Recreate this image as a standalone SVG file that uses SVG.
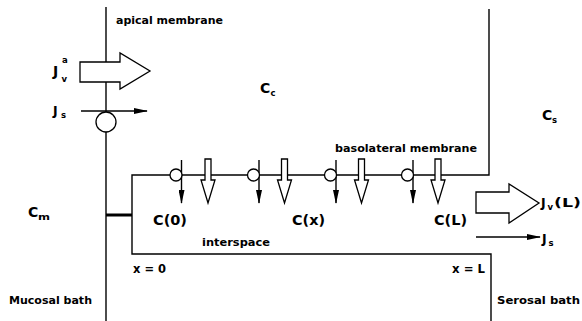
<svg xmlns="http://www.w3.org/2000/svg" width="582" height="321" viewBox="0 0 582 321">
  <style>
    .ln { stroke: #000; stroke-width: 1.4; fill: none; }
    .thick { stroke: #000; stroke-width: 3; fill: none; }
    .open { stroke: #000; stroke-width: 1.3; fill: #fff; stroke-linejoin: miter; }
    .carrier { stroke: #000; stroke-width: 1.3; fill: #fff; }
    text { font-family: "DejaVu Sans", "Liberation Sans", Arial, sans-serif; font-weight: bold; fill: #000; }
    .small { font-size: 10.5px; }
    .big { font-size: 14px; }
    .mid { font-size: 12.5px; }
    .sub { font-size: 8.5px; }
  </style>
  <defs>
    <marker id="head" viewBox="0 0 14 6" markerWidth="14" markerHeight="6" refX="13" refY="3" markerUnits="userSpaceOnUse" orient="auto">
      <path d="M0,0 L14,3 L0,6 z" fill="#000"/>
    </marker>
    <polygon id="openDown" class="open" points="-3,159 3,159 3,180 7,180 0,203 -7,180 -3,180"/>
  </defs>
  <rect width="582" height="321" fill="#fff"/>

  <!-- membranes / compartments -->
  <g id="apical-membrane">
    <line class="ln" x1="106" y1="7" x2="106" y2="321"/>
    <text class="small" x="116" y="24" textLength="107" lengthAdjust="spacingAndGlyphs">apical membrane</text>
  </g>
  <g id="cell-boundary">
    <polyline class="ln" points="489,9 489,175 132,175 132,254 491,254 491,321"/>
    <line class="thick" x1="106" y1="215" x2="132" y2="215"/>
    <text class="small" x="335" y="152" textLength="142" lengthAdjust="spacingAndGlyphs">basolateral membrane</text>
    <text class="small" x="202" y="246" textLength="68" lengthAdjust="spacingAndGlyphs">interspace</text>
  </g>

  <g id="connectors">
    <!-- apical volume flow -->
    <polygon class="open" points="80,62 120,62 120,53 150,71 120,89 120,82 80,82"/>
    <!-- apical solute flow -->
    <line class="ln" x1="81" y1="111" x2="147" y2="111" marker-end="url(#head)"/>
    <circle class="carrier" cx="106" cy="122" r="10"/>
    <!-- basolateral carriers and fluxes -->
    <line class="ln" x1="181.5" y1="160" x2="181.5" y2="203" marker-end="url(#head)"/>
    <line class="ln" x1="259" y1="160" x2="259" y2="203" marker-end="url(#head)"/>
    <line class="ln" x1="336" y1="160" x2="336" y2="203" marker-end="url(#head)"/>
    <line class="ln" x1="413" y1="160" x2="413" y2="203" marker-end="url(#head)"/>
    <circle class="carrier" cx="176" cy="175" r="6"/>
    <circle class="carrier" cx="253.5" cy="175" r="6"/>
    <circle class="carrier" cx="330.5" cy="175" r="6"/>
    <circle class="carrier" cx="407.5" cy="175" r="6"/>
    <use href="#openDown" x="208"/>
    <use href="#openDown" x="284.5"/>
    <use href="#openDown" x="361.5"/>
    <use href="#openDown" x="438"/>
    <!-- exit flows -->
    <polygon class="open" points="476,192 509,192 509,184 539,203 509,223 509,213 476,213"/>
    <line class="ln" x1="476" y1="237" x2="540" y2="237" marker-end="url(#head)"/>
  </g>

  <g id="label-Jva">
    <text class="big" x="53" y="76">J</text>
    <text class="sub" x="62" y="63">a</text>
    <text class="sub" x="61.5" y="82">v</text>
  </g>
  <g id="label-Js-apical">
    <text class="mid" x="53" y="115">J</text>
    <text class="sub" x="61" y="118">s</text>
  </g>
  <g id="label-Cc">
    <text class="big" x="260" y="93">C</text>
    <text class="sub" x="270.5" y="96">c</text>
  </g>
  <g id="label-Cs">
    <text class="big" x="542" y="120">C</text>
    <text class="sub" x="552" y="123">s</text>
  </g>
  <g id="label-Cm">
    <text class="big" x="28" y="217">C</text>
    <text class="sub" x="38" y="220" textLength="12" lengthAdjust="spacingAndGlyphs">m</text>
  </g>
  <g id="label-C0"><text class="big" x="153" y="225" textLength="34" lengthAdjust="spacingAndGlyphs">C(0)</text></g>
  <g id="label-Cx"><text class="big" x="292" y="225" textLength="33" lengthAdjust="spacingAndGlyphs">C(x)</text></g>
  <g id="label-CL"><text class="big" x="434" y="225" textLength="33" lengthAdjust="spacingAndGlyphs">C(L)</text></g>
  <g id="label-JvL">
    <text class="mid" x="541" y="207">J</text>
    <text class="sub" x="547.5" y="210">v</text>
    <text class="mid" x="554" y="207" textLength="27" lengthAdjust="spacingAndGlyphs">(L)</text>
  </g>
  <g id="label-Js-serosal">
    <text class="mid" x="542" y="243">J</text>
    <text class="sub" x="548.5" y="246">s</text>
  </g>
  <g id="label-x0"><text class="mid" x="133" y="273" textLength="33" lengthAdjust="spacingAndGlyphs">x = 0</text></g>
  <g id="label-xL"><text class="mid" x="452" y="273" textLength="33" lengthAdjust="spacingAndGlyphs">x = L</text></g>
  <g id="label-mucosal"><text class="small" x="9" y="304" textLength="83" lengthAdjust="spacingAndGlyphs">Mucosal bath</text></g>
  <g id="label-serosal"><text class="small" x="497" y="304" textLength="83" lengthAdjust="spacingAndGlyphs">Serosal bath</text></g>
</svg>
